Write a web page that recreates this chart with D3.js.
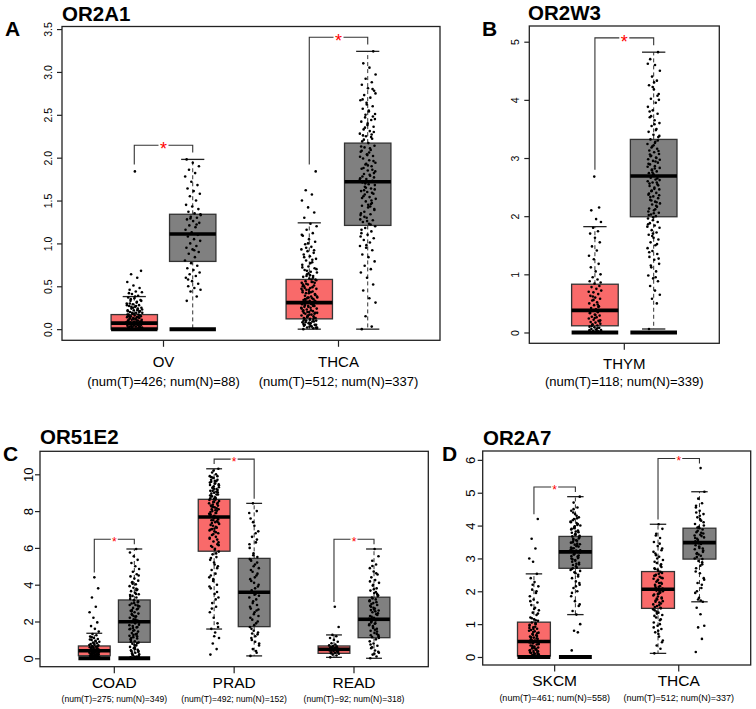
<!DOCTYPE html>
<html><head><meta charset="utf-8">
<script src="https://cdn.jsdelivr.net/npm/d3@7"></script>
<style>
body{margin:0;background:#fff}
svg{display:block}
text{font-family:"Liberation Sans",Arial,Helvetica,sans-serif}
</style>
</head><body>
<svg id="chart" width="756" height="709"></svg>
<script>
// ---------------- DATA ----------------
const genes = ["OR2A1", "OR2W3", "OR51E2", "OR2A7"];
const letters = ["A", "B", "C", "D"];

const cancersA = ["OV", "THCA"];
const cancersB = ["THYM"];
const cancersC = ["COAD", "PRAD", "READ"];
const cancersD = ["SKCM", "THCA"];

// [num(T), num(N)]
const numsA = [[426, 88], [512, 337]];
const numsB = [[118, 339]];
const numsC = [[275, 349], [492, 152], [92, 318]];
const numsD = [[461, 558], [512, 337]];

// box stats [lower whisker, Q1, median, Q3, upper whisker]; [tumor, normal]
const statsA = [
  [[0, 0, 0.07, 0.17, 0.38], [0, 0.79, 1.11, 1.34, 1.98]],
  [[0, 0.12, 0.31, 0.58, 1.24], [0, 1.21, 1.72, 2.17, 3.24]]
];
const statsB = [
  [[0, 0.115, 0.38, 0.83, 1.82], [0.06, 1.99, 2.69, 3.32, 4.82]]
];
const statsC = [
  [[0, 0.14, 0.41, 0.67, 1.36], [0, 0.87, 1.99, 3.17, 5.94]],
  [[1.59, 5.82, 7.68, 8.64, 10.3], [0.13, 1.72, 3.59, 5.43, 8.42]],
  [[0.05, 0.27, 0.49, 0.67, 1.27], [0, 1.12, 2.12, 3.32, 5.94]]
];
const statsD = [
  [[0, 0.03, 0.47, 1.06, 2.53], [1.29, 2.7, 3.2, 3.67, 4.88]],
  [[0.11, 1.48, 2.06, 2.6, 4.04], [1.68, 2.98, 3.48, 3.92, 5.03]]
];

// many samples exactly at zero (drawn as a band at 0)
const zerosA = [[true, true], [false, false]];
const zerosB = [[true, true]];
const zerosC = [[true, true], [false, false], [false, false]];
const zerosD = [[true, true], [false, false]];

// sample points
const ptsA_OV_T = [0.01,0.01,0.02,0.02,0.03,0.03,0.03,0.04,0.04,0.05,0.05,0.05,0.06,0.06,0.07,0.07,0.07,0.08,0.08,0.09,0.09,0.1,0.1,0.11,0.11,0.12,0.12,0.13,0.13,0.14,0.14,0.15,0.15,0.16,0.17,0.17,0.18,0.19,0.19,0.2,0.21,0.22,0.22,0.23,0.24,0.25,0.26,0.27,0.28,0.29,0.3,0.31,0.33,0.34,0.36,0.37,0.39,0.41,0.43,0.44,0.46,0.48,0.51,0.55,0.6,0.64,0.68,1.84,0.02,0.04,0.06,0.08,0.11,0.13,0.16,0.18,0.21,0.24,0.03,0.09,0.12,0.15,0.2,0.25,0.28,0.32,0.35,0.01,0.05,0.1,0.14,0.19,0.23,0.27,0.3,0.06,0.12,0.17,0.22,0.26,0.33,0.38,0.42];
const ptsA_OV_N = [0.33,0.38,0.44,0.46,0.48,0.5,0.53,0.56,0.6,0.62,0.64,0.66,0.69,0.71,0.74,0.77,0.8,0.84,0.88,0.9,0.93,0.95,0.97,1.0,1.03,1.05,1.08,1.1,1.13,1.16,1.19,1.21,1.24,1.26,1.28,1.3,1.31,1.33,1.35,1.37,1.4,1.43,1.45,1.5,1.55,1.58,1.61,1.64,1.68,1.72,1.78,1.82,1.86,1.9,1.94,1.98,1.22,1.29,1.34,0.92,0.58];
const ptsA_THCA_T = [0,0.01,0.02,0.02,0.04,0.05,0.05,0.07,0.08,0.09,0.1,0.1,0.12,0.13,0.13,0.15,0.16,0.17,0.18,0.19,0.2,0.21,0.21,0.23,0.24,0.25,0.26,0.27,0.27,0.29,0.3,0.31,0.32,0.33,0.34,0.35,0.36,0.37,0.38,0.39,0.41,0.42,0.43,0.44,0.46,0.47,0.48,0.5,0.51,0.52,0.54,0.55,0.56,0.58,0.59,0.61,0.62,0.64,0.66,0.67,0.69,0.71,0.73,0.75,0.78,0.8,0.82,0.85,0.87,0.89,0.91,0.93,0.96,0.99,1.02,1.05,1.09,1.12,1.16,1.2,1.23,1.3,1.36,1.42,1.5,1.57,1.62,1.84,0.03,0.06,0.11,0.14,0.19,0.22,0.28,0.33,0.37,0.45,0.49,0.53,0.57,0.63,0.04,0.09,0.16,0.24,0.29,0.34,0.4,0.44,0.52,0.6,0.68,0.01,0.07,0.12,0.18,0.26,0.31,0.36,0.42,0.02,0.06,0.1,0.15,0.2,0.25,0.3,0.35,0.4,0.46,0.5,0.55,0.62,0.7,0.77,0.84,0.92,1.0,1.1,0.03,0.08,0.13,0.17,0.22,0.27,0.32,0.38,0.43,0.48,0.54,0.65,0.72,0.81,0.95,0.05,0.11,0.19,0.28,0.37,0.47,0.58];
const ptsA_THCA_N = [0,0.03,0.15,0.31,0.36,0.45,0.52,0.6,0.66,0.7,0.74,0.79,0.84,0.87,0.92,0.95,0.97,1.01,1.04,1.06,1.1,1.12,1.14,1.18,1.2,1.23,1.25,1.27,1.3,1.33,1.34,1.37,1.4,1.42,1.44,1.47,1.49,1.52,1.54,1.55,1.58,1.6,1.61,1.64,1.66,1.68,1.69,1.71,1.73,1.75,1.76,1.79,1.81,1.82,1.85,1.87,1.9,1.92,1.94,1.97,1.99,2.02,2.04,2.07,2.09,2.12,2.14,2.17,2.19,2.22,2.25,2.28,2.31,2.33,2.36,2.38,2.42,2.44,2.47,2.51,2.54,2.57,2.6,2.64,2.67,2.7,2.73,2.78,2.81,2.85,2.88,2.92,2.97,3.05,3.1,3.24,1.26,1.35,1.46,1.57,1.63,1.72,1.78,1.86,1.93,2.01,2.11,2.21,2.3,2.4,1.16,1.5,1.7,1.84,2.06,2.26,2.48,2.62,1.08,1.22,1.31,1.39,1.45,1.53,1.59,1.65,1.74,1.8,1.88,1.96,2.03,2.13,2.24,2.35,2.45,2.55,2.68,2.8,0.98,1.28,1.43,1.62,1.77,1.91,2.08,2.27,2.5,2.75];
const ptsB_THYM_T = [0.01,0.02,0.03,0.04,0.05,0.06,0.08,0.09,0.1,0.12,0.13,0.15,0.17,0.18,0.2,0.22,0.24,0.26,0.27,0.29,0.31,0.33,0.35,0.37,0.38,0.4,0.42,0.45,0.47,0.5,0.52,0.55,0.58,0.6,0.63,0.66,0.69,0.72,0.75,0.78,0.8,0.84,0.88,0.91,0.95,1.0,1.05,1.12,1.18,1.26,1.32,1.41,1.48,1.55,1.63,1.7,1.74,1.8,1.9,1.95,2.1,2.15,2.68,0.04,0.07,0.14,0.21,0.3,0.36,0.44,0.56,0.7,0.02,0.11,0.19,0.25,0.34,0.48,0.62,0.86];
const ptsB_THYM_N = [0.06,0.5,0.58,0.65,0.72,0.8,0.88,0.93,0.98,1.05,1.12,1.18,1.25,1.3,1.35,1.4,1.45,1.5,1.55,1.6,1.63,1.68,1.72,1.76,1.8,1.84,1.88,1.9,1.93,1.96,2.0,2.03,2.06,2.1,2.13,2.16,2.2,2.22,2.25,2.28,2.31,2.34,2.37,2.4,2.43,2.46,2.49,2.52,2.55,2.58,2.6,2.63,2.66,2.69,2.71,2.74,2.77,2.8,2.83,2.86,2.89,2.92,2.95,2.98,3.01,3.04,3.07,3.1,3.13,3.16,3.2,3.24,3.28,3.32,3.36,3.4,3.45,3.5,3.55,3.6,3.65,3.7,3.76,3.82,3.88,3.95,4.02,4.1,4.18,4.25,4.33,4.4,4.5,4.6,4.7,4.82,1.98,2.08,2.18,2.27,2.36,2.47,2.56,2.65,2.75,2.85,2.94,3.03,3.12,3.22,2.02,2.24,2.44,2.62,2.82,3.06,3.3,1.7,1.86,3.48,3.72,4.0,4.3,1.38,1.52,1.66,1.82,2.12,2.33,2.53,2.72,2.9,3.0,3.18,3.38,3.58,3.8,4.07,4.22,4.62,0.95,1.15,1.27,2.05,2.39,2.58,2.79,2.97,3.26];
const ptsC_COAD_T = [0.01,0.03,0.05,0.07,0.09,0.1,0.12,0.14,0.15,0.17,0.19,0.2,0.22,0.24,0.26,0.28,0.3,0.32,0.34,0.36,0.38,0.4,0.42,0.44,0.46,0.48,0.5,0.53,0.56,0.6,0.63,0.66,0.7,0.74,0.78,0.82,0.86,0.9,0.95,1.0,1.05,1.1,1.18,1.25,1.32,1.45,1.6,1.75,1.95,2.2,2.5,2.8,3.3,3.8,4.4,0.08,0.18,0.27,0.35,0.45,0.55,0.65,0.8,1.02,0.04,0.13,0.23,0.31,0.41,0.52,0.61,0.72,0.92,1.15];
const ptsC_COAD_N = [0.05,0.1,0.16,0.22,0.3,0.38,0.46,0.55,0.62,0.7,0.79,0.86,0.93,1.0,1.08,1.15,1.22,1.3,1.37,1.45,1.52,1.6,1.68,1.75,1.82,1.9,1.97,2.05,2.12,2.2,2.28,2.35,2.43,2.5,2.58,2.66,2.74,2.82,2.9,2.98,3.05,3.14,3.22,3.3,3.39,3.48,3.56,3.65,3.74,3.83,3.92,4.02,4.12,4.22,4.33,4.45,4.57,4.7,4.85,5.0,5.18,5.35,5.55,5.75,5.94,0.2,0.4,0.6,0.9,1.2,1.5,1.8,2.1,2.4,2.7,3.0,3.35,3.7,4.05,0.12,0.5,1.1,1.7,2.3,2.9,3.5,0.27,0.34,0.72,1.04,1.33,1.64,1.93,2.24,2.55,2.86,3.17,3.44,3.78,4.15,4.5,0.08,0.44,0.82,1.27,1.58,2.0,2.62,3.1];
const ptsC_PRAD_T = [0.2,0.5,0.8,1.1,1.4,1.6,1.9,2.2,2.5,2.8,3.0,3.3,3.5,3.8,4.0,4.2,4.4,4.6,4.8,5.0,5.2,5.35,5.5,5.65,5.8,5.95,6.1,6.2,6.35,6.5,6.6,6.7,6.8,6.9,7.0,7.1,7.2,7.3,7.4,7.5,7.6,7.7,7.8,7.9,8.0,8.1,8.2,8.3,8.4,8.5,8.6,8.7,8.8,8.9,9.0,9.1,9.2,9.3,9.4,9.5,9.6,9.7,9.8,9.9,10.0,10.1,10.3,7.05,7.25,7.45,7.65,7.85,8.05,8.25,8.45,8.65,8.85,9.05,9.25,9.45,9.65,9.85,6.45,6.75,6.95,7.15,7.35,7.55,7.75,7.95,8.15,8.35,8.55,8.75,8.95,9.15,9.35,9.55,5.7,6.05,6.3,5.1,4.5,3.6,7.5,7.7,7.9,8.1,8.3,8.5,8.7,8.9,9.1,9.3,9.5,9.7,9.9,10.2,6.55,6.85,7.02,7.38,7.62,7.82,8.02,8.22,8.42,8.62,8.82,9.02,9.22,9.42,9.62,9.82,6.15,5.9,5.45,4.9,4.3,3.9,3.2,2.7,1.7,1.2];
const ptsC_PRAD_N = [0.13,0.3,0.5,0.7,0.9,1.1,1.3,1.5,1.7,1.9,2.1,2.3,2.5,2.7,2.9,3.1,3.3,3.5,3.7,3.9,4.1,4.3,4.5,4.7,4.9,5.1,5.3,5.5,5.7,6.0,6.3,6.6,6.9,7.2,7.6,8.0,8.42,0.8,1.2,1.6,2.0,2.4,2.8,3.2,3.6,4.0,4.4,4.8,5.2,5.6,6.2,6.8,1.0,1.4,1.8,2.2,2.6,3.0,3.4,3.8,4.2,4.6,5.0,5.4,0.4,1.35,2.65,3.45,5.35,6.45,7.4,7.9];
const ptsC_READ_T = [0.05,0.15,0.2,0.25,0.3,0.33,0.36,0.4,0.43,0.46,0.49,0.52,0.55,0.58,0.62,0.66,0.7,0.75,0.82,0.9,1.0,1.1,1.2,1.27,1.7,2.8,0.28,0.38,0.44,0.5,0.54,0.6,0.35,0.47,0.57,0.64];
const ptsC_READ_N = [0,0.1,0.2,0.3,0.42,0.55,0.68,0.8,0.92,1.03,1.15,1.26,1.38,1.5,1.6,1.7,1.8,1.9,2.0,2.1,2.2,2.3,2.4,2.5,2.6,2.7,2.8,2.9,3.0,3.1,3.2,3.3,3.42,3.55,3.68,3.8,3.95,4.1,4.25,4.4,4.55,4.72,4.9,5.1,5.3,5.55,5.94,1.25,1.45,1.65,1.85,2.05,2.25,2.45,2.65,2.85,3.05,3.25,1.1,1.55,1.95,2.35,2.75,3.15,3.6,0.6,0.35,0.25,0.75,1.32,1.75,2.15,2.55,2.95,3.38,3.75,4.18,4.62,5.02,1.2,1.88,2.62,3.5,4.0];
const ptsD_SKCM_T = [0.01,0.03,0.05,0.08,0.1,0.12,0.15,0.18,0.2,0.23,0.26,0.29,0.32,0.35,0.38,0.42,0.45,0.48,0.52,0.55,0.59,0.62,0.66,0.7,0.74,0.78,0.82,0.86,0.9,0.95,1.0,1.05,1.1,1.15,1.2,1.28,1.35,1.42,1.5,1.58,1.66,1.75,1.85,1.95,2.05,2.15,2.28,2.4,2.53,2.9,3.0,3.3,3.6,4.2,0.06,0.14,0.22,0.3,0.4,0.5,0.6,0.72,0.85,0.98,1.12,0.04,0.17,0.27,0.44,0.57,0.68,0.8,0.92,0.02,0.09,0.13,0.2,0.25,0.34,0.39,0.47,0.54,0.64,0.76,0.88,1.03,1.18,1.32,1.46,1.7,2.0,2.2];
const ptsD_SKCM_N = [0.2,0.75,0.8,1.0,1.29,1.4,1.55,1.7,1.85,2.0,2.1,2.2,2.3,2.4,2.5,2.58,2.65,2.72,2.8,2.87,2.93,3.0,3.06,3.12,3.18,3.24,3.3,3.36,3.42,3.48,3.54,3.6,3.66,3.72,3.78,3.85,3.92,4.0,4.08,4.16,4.25,4.35,4.45,4.55,4.7,4.88,2.76,2.9,3.03,3.15,3.27,3.39,3.51,3.63,3.75,3.9,4.05,4.2,2.62,2.84,2.97,3.09,3.21,3.33,3.45,3.57,3.69,3.82,1.95,2.45,3.95,4.12,4.3,2.7,2.82,2.95,3.07,3.19,3.31,3.43,3.55,3.67,3.8,3.98,4.1,4.22,4.4,2.25,2.55,2.68,3.01,3.13,3.25,3.37,3.49,3.61,3.73,3.88,4.02,4.5,1.6,2.15];
const ptsD_THCA_T = [0.11,0.25,0.35,0.5,0.62,0.75,0.85,0.95,1.05,1.12,1.2,1.28,1.35,1.42,1.48,1.55,1.6,1.66,1.72,1.78,1.84,1.9,1.96,2.02,2.08,2.14,2.2,2.26,2.32,2.38,2.44,2.5,2.56,2.62,2.7,2.78,2.86,2.95,3.05,3.15,3.25,3.38,3.5,3.62,3.75,3.9,4.04,1.52,1.63,1.75,1.87,1.99,2.11,2.23,2.35,2.47,2.59,1.38,1.7,1.93,2.17,2.41,2.66,0.9,1.0,3.1,3.3,0.7,2.9,1.15,1.32,1.45,1.58,1.68,1.81,1.92,2.05,2.16,2.29,2.4,2.53,2.68,2.82,3.0,3.2,3.45,3.7,0.45,0.8,1.25,1.5,1.78,2.0,2.25,2.48,2.74];
const ptsD_THCA_N = [0.15,0.55,0.9,0.95,1.3,1.5,1.68,1.8,1.95,2.1,2.25,2.4,2.55,2.7,2.82,2.92,3.0,3.08,3.16,3.24,3.32,3.4,3.48,3.56,3.64,3.72,3.8,3.88,3.96,4.05,4.15,4.25,4.35,4.45,4.55,4.68,4.82,5.03,5.75,3.04,3.2,3.36,3.52,3.68,3.84,4.0,4.2,4.4,2.98,3.12,3.28,3.44,3.6,3.76,3.92,2.6,2.2,1.75,2.35,2.78,3.14,3.3,3.46,3.62,3.78,3.94,4.1,4.3,4.6,2.88,3.5,3.7,1.72,2.0];

const ptsA = [[ptsA_OV_T, ptsA_OV_N], [ptsA_THCA_T, ptsA_THCA_N]];
const ptsB = [[ptsB_THYM_T, ptsB_THYM_N]];
const ptsC = [[ptsC_COAD_T, ptsC_COAD_N], [ptsC_PRAD_T, ptsC_PRAD_N], [ptsC_READ_T, ptsC_READ_N]];
const ptsD = [[ptsD_SKCM_T, ptsD_SKCM_N], [ptsD_THCA_T, ptsD_THCA_N]];

// y axis tick labels
const ticksA = [0, 0.5, 1, 1.5, 2, 2.5, 3, 3.5];
const ticksB = [0, 1, 2, 3, 4, 5];
const ticksC = [0, 2, 4, 6, 8, 10];
const ticksD = [0, 1, 2, 3, 4, 5, 6];

// ---------------- LAYOUT ----------------
const COLOR_T = "#F96A6A", COLOR_N = "#808080";
const panels = [
  {letter: letters[0], gene: genes[0], cancers: cancersA, nums: numsA, stats: statsA, pts: ptsA, zeros: zerosA, ticks: ticksA, fmt: d3.format(".1f"),
   frame: {l: 62, r: 440, t: 26.5, b: 340.3}, ydom: [-0.13, 3.53], tickFont: 10.5, tickOff: 14,
   nameFont: 15, nameDy: 21.5, numFont: 13, numDy: 41, starFont: 18, gap: 10, jit: 0.046,
   letterPos: [5, 36], titlePos: [62, 20.5]},
  {letter: letters[1], gene: genes[1], cancers: cancersB, nums: numsB, stats: statsB, pts: ptsB, zeros: zerosB, ticks: ticksB, fmt: d3.format("d"),
   frame: {l: 529.3, r: 719.3, t: 26, b: 343.3}, ydom: [-0.186, 5.27], tickFont: 10.5, tickOff: 13.5,
   nameFont: 15, nameDy: 20, numFont: 13, numDy: 38, starFont: 18, gap: 10, jit: 0.036,
   letterPos: [482, 36], titlePos: [528, 20]},
  {letter: letters[2], gene: genes[2], cancers: cancersC, nums: numsC, stats: statsC, pts: ptsC, zeros: zerosC, ticks: ticksC, fmt: d3.format("d"),
   frame: {l: 40, r: 428.3, t: 451.3, b: 666.7}, ydom: [-0.457, 11.25], tickFont: 13, tickOff: 11.5,
   nameFont: 15.5, nameDy: 16, numFont: 8.6, numDy: 32.6, starFont: 12, gap: 7, jit: 0.042,
   letterPos: [3, 460.7], titlePos: [40, 444]},
  {letter: letters[3], gene: genes[3], cancers: cancersD, nums: numsD, stats: statsD, pts: ptsD, zeros: zerosD, ticks: ticksD, fmt: d3.format("d"),
   frame: {l: 482.7, r: 750.7, t: 451, b: 665}, ydom: [-0.244, 6.27], tickFont: 13, tickOff: 12.4,
   nameFont: 15.5, nameDy: 16, numFont: 9, numDy: 33.3, starFont: 12, gap: 7, jit: 0.04,
   letterPos: [442, 461], titlePos: [483, 445]}
];

const svg = d3.select("#chart");
const BOX_OFF = 0.167, BOX_W = 0.265;

panels.forEach(p => {
  const n = p.cancers.length;
  const f = p.frame;
  const x = d3.scaleLinear().domain([0.5 - 0.04 * n, n + 0.5 + 0.04 * n]).range([f.l, f.r]);
  const y = d3.scaleLinear().domain(p.ydom).range([f.b, f.t]);
  const H = f.b - f.t;
  const g = svg.append("g");
  const pxPerUnit = x(1) - x(0);

  g.append("text").attr("x", p.letterPos[0]).attr("y", p.letterPos[1])
    .attr("font-size", 21).attr("font-weight", "bold").text(p.letter);
  g.append("text").attr("x", p.titlePos[0]).attr("y", p.titlePos[1])
    .attr("font-size", 20.5).attr("font-weight", "bold").text(p.gene);

  p.cancers.forEach((c, i) => {
    const gi = i + 1;
    const centers = [gi - BOX_OFF, gi + BOX_OFF];
    const maxes = [];
    [0, 1].forEach(k => {
      const s = p.stats[i][k];
      const cx = x(centers[k]);
      const hw = BOX_W * pxPerUnit / 2;
      const bg = g.append("g");
      bg.append("line").attr("x1", cx).attr("x2", cx).attr("y1", y(s[3])).attr("y2", y(s[4]))
        .attr("stroke", "#333").attr("stroke-width", 1).attr("stroke-dasharray", "4,3");
      bg.append("line").attr("x1", cx).attr("x2", cx).attr("y1", y(s[1])).attr("y2", y(s[0]))
        .attr("stroke", "#333").attr("stroke-width", 1).attr("stroke-dasharray", "4,3");
      [s[0], s[4]].forEach(v => {
        bg.append("line").attr("x1", cx - hw / 2).attr("x2", cx + hw / 2).attr("y1", y(v)).attr("y2", y(v))
          .attr("stroke", "#222").attr("stroke-width", 1.3);
      });
      bg.append("rect").attr("x", cx - hw).attr("width", 2 * hw)
        .attr("y", y(s[3])).attr("height", Math.max(0.5, y(s[1]) - y(s[3])))
        .attr("fill", k === 0 ? COLOR_T : COLOR_N).attr("stroke", "#333").attr("stroke-width", 1.3);
      bg.append("line").attr("x1", cx - hw).attr("x2", cx + hw).attr("y1", y(s[2])).attr("y2", y(s[2]))
        .attr("stroke", "#000").attr("stroke-width", 3.6);
      if (p.zeros[i][k]) {
        bg.append("line").attr("x1", cx - hw).attr("x2", cx + hw).attr("y1", y(0)).attr("y2", y(0))
          .attr("stroke", "#000").attr("stroke-width", 4);
      }
      const vals = p.pts[i][k];
      bg.selectAll("circle").data(vals).join("circle")
        .attr("cx", (v, j) => x(centers[k] + (((j * 0.6180339 + 0.13) % 1) * 2 - 1) * p.jit))
        .attr("cy", v => y(v))
        .attr("r", 1.3).attr("fill", "#000");
      maxes.push(Math.max(s[4], d3.max(vals)));
    });

    const xl = x(centers[0]), xr = x(centers[1]), xc = x(gi);
    const yl = y(maxes[0]) - 0.022 * H, yr = y(maxes[1]) - 0.022 * H;
    const yt = Math.min(y(maxes[0]), y(maxes[1])) - 0.045 * H;
    const bp = d3.path();
    bp.moveTo(xl, yl); bp.lineTo(xl, yt); bp.lineTo(xc - p.gap / 2, yt);
    bp.moveTo(xc + p.gap / 2, yt); bp.lineTo(xr, yt); bp.lineTo(xr, yr);
    g.append("path").attr("d", bp.toString()).attr("fill", "none").attr("stroke", "#333").attr("stroke-width", 1.1);
    g.append("text").attr("x", xc).attr("y", yt + 0.55 * p.starFont).attr("text-anchor", "middle")
      .attr("font-size", p.starFont).attr("fill", "#FF0000").text("*");

    g.append("line").attr("x1", xc).attr("x2", xc).attr("y1", f.b).attr("y2", f.b + 6.5)
      .attr("stroke", "#222").attr("stroke-width", 1.2);
    g.append("text").attr("x", xc).attr("y", f.b + p.nameDy).attr("dy", "0.35em")
      .attr("text-anchor", "middle").attr("font-size", p.nameFont).text(c);
    g.append("text").attr("x", xc).attr("y", f.b + p.numDy).attr("dy", "0.35em")
      .attr("text-anchor", "middle").attr("font-size", p.numFont)
      .text(`(num(T)=${p.nums[i][0]}; num(N)=${p.nums[i][1]})`);
  });

  const ax = g.append("g").attr("transform", `translate(${f.l},0)`)
    .call(d3.axisLeft(y).tickValues(p.ticks).tickSize(5).tickFormat(p.fmt));
  ax.select(".domain").remove();
  ax.selectAll(".tick line").attr("stroke", "#222").attr("stroke-width", 1.2);
  ax.selectAll(".tick text")
    .attr("transform", "rotate(-90)")
    .attr("x", 0).attr("y", -p.tickOff).attr("dy", "0.35em")
    .attr("text-anchor", "middle")
    .attr("font-size", p.tickFont)
    .attr("font-family", '"Liberation Sans",Arial,sans-serif')
    .attr("fill", "#000");

  g.append("rect").attr("x", f.l).attr("y", f.t).attr("width", f.r - f.l).attr("height", f.b - f.t)
    .attr("fill", "none").attr("stroke", "#222").attr("stroke-width", 1.3);
});
</script>
</body></html>
